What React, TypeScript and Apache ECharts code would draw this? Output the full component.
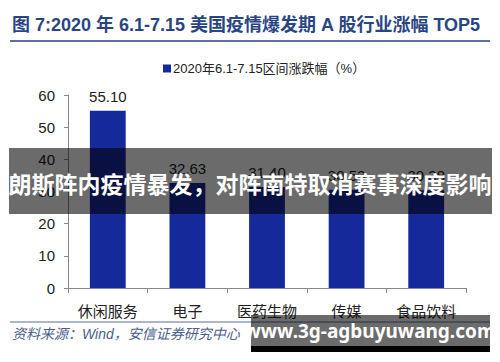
import React, { useEffect, useRef } from "react";
import * as echarts from "echarts";

const categories = ["休闲服务", "电子", "医药生物", "传媒", "食品饮料"];
const values = [55.1, 32.63, 31.4, 30.53, 30.38];
const seriesName = "2020年6.1-7.15区间涨跌幅（%）";
const titleText = "图 7:2020 年 6.1-7.15 美国疫情爆发期 A 股行业涨幅 TOP5";
const sourceText = "资料来源：Wind，安信证券研究中心";
const overlayText = "朗斯阵内疫情暴发，对阵南特取消赛事深度影响";
const watermark = "www.3g-agbuyuwang.com";

const FONT = "'Liberation Sans', 'Noto Sans CJK SC', sans-serif";

export default function App() {
  const ref = useRef<HTMLDivElement>(null);
  useEffect(() => {
    if (!ref.current) return;
    const chart = echarts.init(ref.current, undefined, { renderer: "svg" });
    chart.setOption({
      animation: false,
      backgroundColor: "#ffffff",
      textStyle: { fontFamily: FONT },
      legend: {
        data: [seriesName],
        top: 57,
        left: 158,
        itemWidth: 8,
        itemHeight: 8,
        itemGap: 2,
        icon: "rect",
        textStyle: { fontSize: 13, color: "#222", fontFamily: FONT, padding: [0, 0, 0, -3] },
      },
      grid: { left: 68, right: 34, top: 95, bottom: 74 },
      xAxis: {
        type: "category",
        data: categories,
        axisLine: { show: true, lineStyle: { color: "#888", width: 1 } },
        axisTick: { show: true, length: 5, lineStyle: { color: "#888" } },
        axisLabel: { fontSize: 15, color: "#222", margin: 16, fontFamily: FONT },
      },
      yAxis: {
        type: "value",
        min: 0,
        max: 60,
        interval: 10,
        axisLine: { show: true, lineStyle: { color: "#888", width: 1 } },
        axisTick: { show: true, length: 4, lineStyle: { color: "#888" } },
        splitLine: { show: false },
        axisLabel: { fontSize: 15, color: "#222", margin: 13, fontFamily: FONT },
      },
      series: [
        {
          name: seriesName,
          type: "bar",
          data: values,
          barWidth: "45%",
          itemStyle: { color: "#15299b" },
          label: {
            show: true,
            position: "top",
            distance: 7,
            fontSize: 15,
            color: "#222",
            fontFamily: FONT,
            formatter: (p: any) => Number(p.value).toFixed(2),
          },
        },
      ],
      graphic: [
        {
          type: "text",
          left: 12,
          top: 16,
          style: {
            text: titleText,
            font: `bold 18px ${FONT}`,
            fill: "#2a4584",
          },
        },
        {
          type: "line",
          shape: { x1: 10, y1: 41, x2: 490, y2: 41 },
          style: { stroke: "#5d6fa8", lineWidth: 2 },
        },
        {
          type: "line",
          shape: { x1: 10, y1: 322, x2: 490, y2: 322 },
          style: { stroke: "#5a6e99", lineWidth: 1 },
        },
        {
          type: "text",
          left: 12,
          top: 327,
          style: {
            text: sourceText,
            font: `italic 14px ${FONT}`,
            fill: "#4a5f8c",
          },
        },
        {
          type: "rect",
          z: 100,
          shape: { x: 9, y: 148, width: 483, height: 66 },
          style: { fill: "rgba(0,0,0,0.58)" },
        },
        {
          type: "text",
          z: 101,
          x: 250,
          y: 183,
          style: {
            text: overlayText,
            font: `bold 23px 'Noto Sans CJK SC', sans-serif`,
            fill: "#ffffff",
            align: "center",
            verticalAlign: "middle",
          },
        },
        {
          type: "rect",
          z: 100,
          shape: { x: 251, y: 315, width: 239, height: 31 },
          style: { fill: "rgba(0,0,0,0.58)" },
        },
        {
          type: "rect",
          z: 100,
          shape: { x: 251, y: 346, width: 239, height: 6 },
          style: { fill: "#000000" },
        },
        {
          type: "text",
          z: 101,
          x: 370,
          y: 331,
          style: {
            text: watermark,
            font: `bold 19px 'Noto Sans', sans-serif`,
            fill: "#ffffff",
            align: "center",
            verticalAlign: "middle",
          },
        },
      ],
    });
    return () => chart.dispose();
  }, []);
  return (
    <div
      ref={ref}
      style={{ position: "fixed", left: 0, top: 0, width: 500, height: 362 }}
    />
  );
}
